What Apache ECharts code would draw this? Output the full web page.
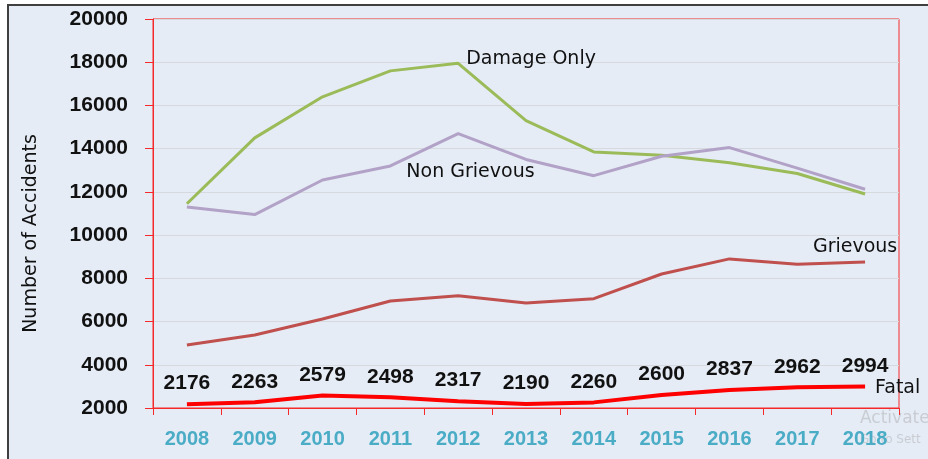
<!DOCTYPE html>
<html>
<head>
<meta charset="utf-8">
<script src="https://cdn.jsdelivr.net/npm/echarts@6/dist/echarts.min.js"></script>
<style>
  html, body { margin: 0; padding: 0; background: #fff; overflow: hidden; }
  .frame {
    position: absolute; left: 7px; top: 4px; width: 940px; height: 470px;
    background: #e5ecf6; border-left: 2px solid #3f3f3f; border-top: 2px solid #3f3f3f;
  }
  .char { position: absolute; left: 0; top: 0; width: 928px; height: 459px; }
</style>
</head>
<body>
<div class="frame"></div>
<div id="char" class="char"></div>
<script>
  // data
  let years = ['2008', '2009', '2010', '2011', '2012', '2013', '2014', '2015', '2016', '2017', '2018']
  let damageOnly = [11450, 14500, 16400, 17600, 17950, 15300, 13850, 13700, 13350, 12850, 11900]
  let nonGrievous = [11300, 10950, 12550, 13200, 14700, 13500, 12750, 13650, 14050, 13100, 12120]
  let grievous = [4920, 5380, 6120, 6950, 7190, 6860, 7060, 8200, 8900, 8650, 8760]
  let fatal = [2176, 2263, 2579, 2498, 2317, 2190, 2260, 2600, 2837, 2962, 2994]
  let yTicks = { min: 2000, max: 20000, step: 2000 }

  let axisRed = '#f42a2a'
  let nameFont = { color: '#111', fontSize: 19, fontFamily: 'DejaVu Sans' }
  let numFont = 'Liberation Sans'

  // put a series name label on one point only
  function withLabel(arr, idx, label) {
    return arr.map((v, i) => (i === idx ? { value: v, label: Object.assign({ show: true }, label) } : v))
  }

  // line without visible dots (labels still need a symbol)
  function lineSeries(name, data, color, width) {
    return {
      name: name,
      type: 'line',
      data: data,
      symbol: 'circle',
      symbolSize: 0,
      showSymbol: true,
      lineStyle: { color: color, width: width },
      itemStyle: { color: color }
    }
  }

  let myChart = echarts.init(document.getElementById('char'))

  let sDamage = lineSeries('Damage Only',
    withLabel(damageOnly, 4, Object.assign({ position: 'right', distance: 8, offset: [0, -4], formatter: '{a}' }, nameFont)),
    '#9bbb59', 3)
  let sNonGrievous = lineSeries('Non Grievous',
    withLabel(nonGrievous, 3, Object.assign({ position: 'right', distance: 16, offset: [0, 6], formatter: '{a}' }, nameFont)),
    '#b3a2c7', 3)
  let sGrievous = lineSeries('Grievous',
    withLabel(grievous, 10, Object.assign({ position: 'top', distance: 5, offset: [-10, 0], formatter: '{a}' }, nameFont)),
    '#c0504d', 3)
  let sFatal = lineSeries('Fatal', fatal, '#ff0000', 4)
  sFatal.label = {
    show: true,
    position: 'top',
    distance: 10,
    color: '#111',
    fontSize: 21,
    fontWeight: 'bold',
    fontFamily: numFont
  }
  sFatal.endLabel = Object.assign({ show: true, formatter: '{a}', distance: 10, offset: [0, 2] }, nameFont)

  let option = {
    animation: false,
    backgroundColor: 'transparent',
    grid: {
      left: 153,
      right: 29,
      top: 19,
      bottom: 51,
      show: true,
      borderColor: axisRed,
      borderWidth: 1
    },
    xAxis: {
      type: 'category',
      data: years,
      boundaryGap: true,
      axisLine: { lineStyle: { color: axisRed, width: 1 } },
      axisTick: { show: true, length: 7, lineStyle: { color: axisRed } },
      axisLabel: {
        color: '#4bacc6',
        fontSize: 20,
        fontWeight: 'bold',
        fontFamily: numFont,
        margin: 21
      }
    },
    yAxis: {
      type: 'value',
      min: yTicks.min,
      max: yTicks.max,
      interval: yTicks.step,
      name: 'Number of Accidents',
      nameLocation: 'middle',
      nameGap: 112,
      nameTextStyle: {
        color: '#111',
        fontSize: 19,
        fontFamily: 'DejaVu Sans',
        padding: [0, 40, 0, 0]
      },
      axisLine: { show: true, lineStyle: { color: axisRed, width: 1 } },
      axisTick: { show: true, length: 8, lineStyle: { color: axisRed } },
      axisLabel: {
        color: '#111',
        fontSize: 21,
        fontWeight: 'bold',
        fontFamily: numFont,
        margin: 25,
        formatter: (v) => String(v)
      },
      splitLine: { lineStyle: { color: '#d6d9de', width: 1 } }
    },
    series: [sDamage, sNonGrievous, sGrievous, sFatal],
    graphic: [
      {
        type: 'text', left: 860, top: 410, silent: true,
        style: { text: 'Activate', fill: '#c9cdd3', fontSize: 17, fontFamily: 'DejaVu Sans' }
      },
      {
        type: 'text', left: 860, top: 434, silent: true,
        style: { text: 'Go to Sett', fill: '#c9cdd3', fontSize: 12, fontFamily: 'DejaVu Sans' }
      }
    ]
  }
  myChart.setOption(option)
</script>
</body>
</html>
